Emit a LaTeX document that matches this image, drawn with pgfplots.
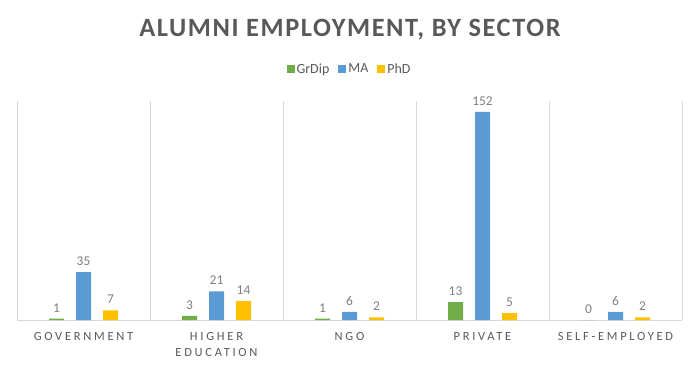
\documentclass[border=0pt]{standalone}
\usepackage{pgfplots}
\pgfplotsset{compat=1.18}
\usepackage{fontspec}
\setmainfont{Carlito}
\newfontfamily\spaced[LetterSpace=22]{Carlito}
\newfontfamily\titlefont[LetterSpace=6]{Carlito}
\definecolor{cgreen}{HTML}{70AD47}
\definecolor{cblue}{HTML}{5B9BD5}
\definecolor{cgold}{HTML}{FFC000}
\definecolor{ctext}{HTML}{595959}
\definecolor{clabel}{HTML}{7F7F7F}
\definecolor{cgrid}{HTML}{D9D9D9}
\begin{document}
\begin{tikzpicture}[x=1bp,y=1bp]
\useasboundingbox (0,0) rectangle (700,371);
\node[font=\titlefont\fontsize{26.5}{30}\selectfont\bfseries, text=ctext] at (350,341) {ALUMNI EMPLOYMENT, BY SECTOR};
\begin{axis}[
  at={(17bp,51bp)}, anchor=south west,
  scale only axis, width=665bp, height=219bp,
  xmin=-0.5, xmax=4.5, ymin=0, ymax=160,
  ybar=12bp, bar width=15bp,
  axis x line*=bottom, axis y line=none,
  x axis line style={draw=cgrid, line width=0.8pt},
  xtick={0,1,2,3,4},
  xticklabels={GOVERNMENT,{HIGHER\\EDUCATION},NGO,PRIVATE,SELF-EMPLOYED},
  xticklabel style={font=\spaced\fontsize{12.5}{16}\selectfont, text=ctext, align=center, anchor=north, yshift=-9bp},
  major tick length=0pt,
  minor xtick={-0.5,0.5,1.5,2.5,3.5,4.5},
  minor tick length=0pt,
  xminorgrids=true,
  minor grid style={draw=cgrid, line width=0.8pt},
  nodes near coords,
  every node near coord/.append style={font=\fontsize{13.5}{15}\selectfont, text=clabel, /pgf/number format/assume math mode=true, yshift=3bp},
  legend style={at={(0.5,1.146)}, anchor=center, draw=none, legend columns=-1, font=\fontsize{14}{16}\selectfont, text=ctext, /tikz/every even column/.append style={column sep=7bp}},
  legend image code/.code={\fill[#1] (0bp,-4bp) rectangle (8bp,4bp);},
]
\addplot[fill=cgreen, draw=none] coordinates {(0,1) (1,3) (2,1) (3,13) (4,0)};
\addplot[fill=cblue, draw=none] coordinates {(0,35) (1,21) (2,6) (3,152) (4,6)};
\addplot[fill=cgold, draw=none] coordinates {(0,7) (1,14) (2,2) (3,5) (4,2)};
\legend{GrDip,MA,PhD}
\end{axis}
\end{tikzpicture}
\end{document}
